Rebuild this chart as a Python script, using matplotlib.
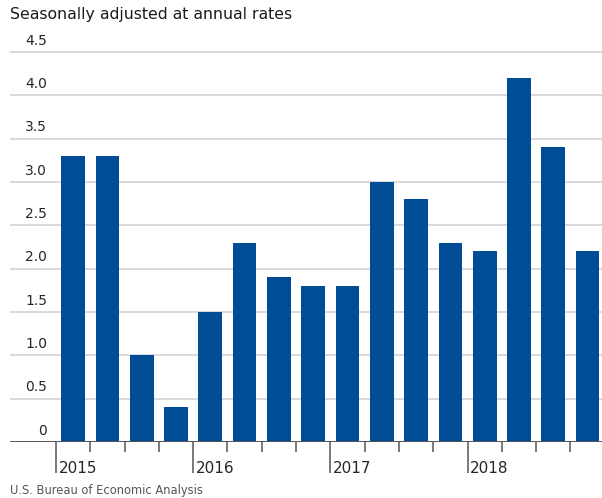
import matplotlib.pyplot as plt
from matplotlib.transforms import blended_transform_factory

plt.rcParams['font.family'] = ['DejaVu Sans']

# quarterly values, 2015 Q1 .. 2018 Q4
years = ["2015", "2016", "2017", "2018"]
values = [3.3, 3.3, 1.0, 0.4,
          1.5, 2.3, 1.9, 1.8,
          1.8, 3.0, 2.8, 2.3,
          2.2, 4.2, 3.4, 2.2]
y_ticks = [0, 0.5, 1.0, 1.5, 2.0, 2.5, 3.0, 3.5, 4.0, 4.5]
y_labels = ["0", "0.5", "1.0", "1.5", "2.0", "2.5", "3.0", "3.5", "4.0", "4.5"]

BAR_COLOR = '#004c97'
GRID_COLOR = '#d9d9d9'
TEXT_COLOR = '#262626'

fig = plt.figure(figsize=(6.02, 4.98), dpi=100)
ax = fig.add_axes([10 / 602, 56 / 498, 592 / 602, 400 / 498])

x = list(range(len(values)))
ax.bar(x, values, width=0.69, color=BAR_COLOR, zorder=3)

ax.set_xlim(-1.84, 15.42)
ax.set_ylim(0, 400 / 86.67)

for v in y_ticks[1:]:
    ax.axhline(v, color=GRID_COLOR, linewidth=1.4, zorder=1)
ax.axhline(0, color='#555555', linewidth=1.4, zorder=4)

for v, lab in zip(y_ticks, y_labels):
    ax.annotate(lab, xy=(37 / 592, v), xycoords=('axes fraction', 'data'),
                xytext=(0, 3), textcoords='offset points',
                ha='right', va='bottom', fontsize=10, color=TEXT_COLOR)

for s in ax.spines.values():
    s.set_visible(False)
ax.set_yticks([])

# ticks at quarter boundaries
bounds = [i - 0.5 for i in range(len(values))]
major = [b for i, b in enumerate(bounds) if i % 4 == 0]
minor = [b for i, b in enumerate(bounds) if i % 4 != 0]
ax.set_xticks(major)
ax.set_xticks(minor, minor=True)
ax.set_xticklabels([])
ax.tick_params(axis='x', which='major', length=22.5, width=1.1, color='#555555', direction='out')
ax.tick_params(axis='x', which='minor', length=7.5, width=1.1, color='#555555', direction='out')

trans = blended_transform_factory(ax.transData, fig.transFigure)
for b, yr in zip(major, years):
    ax.text(b + 0.08, 1 - 468 / 498, yr, transform=trans, ha='left', va='center',
            fontsize=11, color=TEXT_COLOR)

fig.text(10 / 602, 1 - 15 / 498, "Seasonally adjusted at annual rates",
         ha='left', va='center', fontsize=11.3, color='#1a1a1a')
fig.text(10 / 602, 1 - 490 / 498, "U.S. Bureau of Economic Analysis",
         ha='left', va='center', fontsize=8.3, color='#555555')

fig.savefig('out.png', dpi=100)
